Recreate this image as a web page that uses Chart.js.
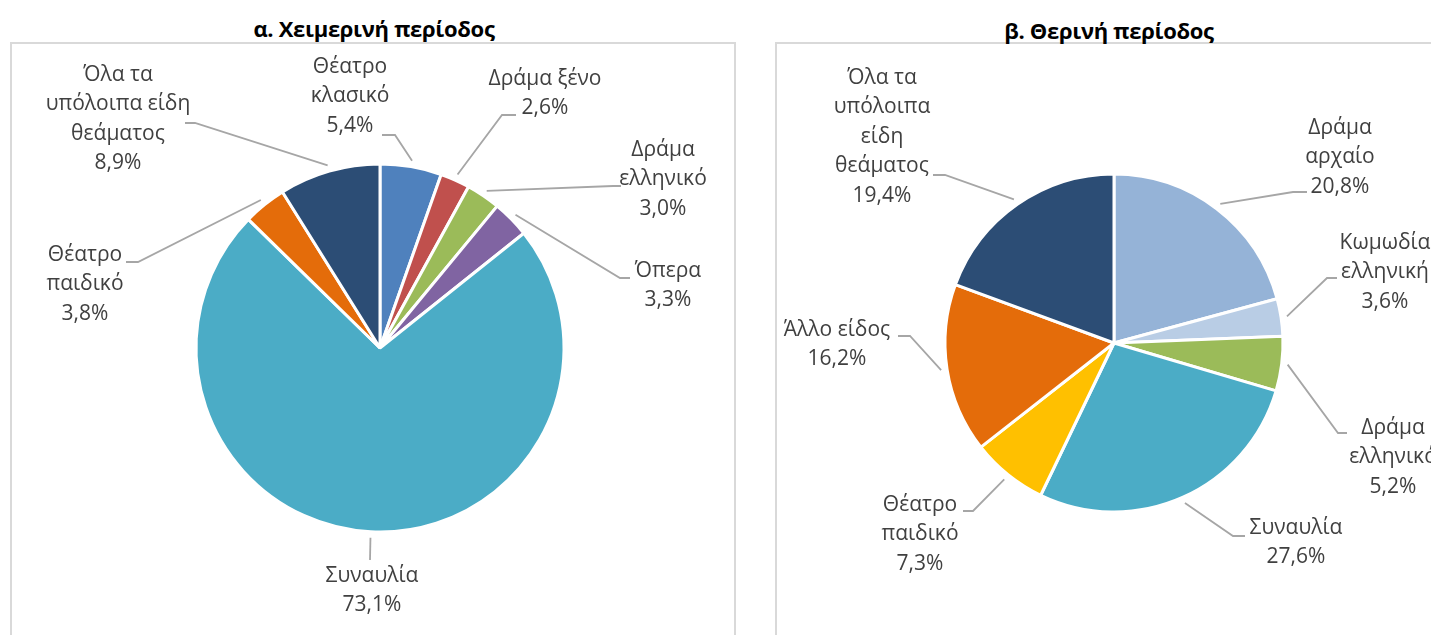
<!DOCTYPE html>
<html>
<head>
<meta charset="utf-8">
<script src="https://cdn.jsdelivr.net/npm/chart.js@4/dist/chart.umd.min.js"></script>
<style>
  html, body { margin: 0; padding: 0; background: #fff; }
  body { width: 1431px; height: 635px; position: relative; overflow: hidden; font-family: "Open Sans", sans-serif; }
  .box { position: absolute; top: 42px; border: 2px solid #D9D9D9; box-sizing: border-box; }
  .title { position: absolute; font-family: "Open Sans", sans-serif; font-weight: 700; font-size: 22px; color: #000; white-space: nowrap; transform: translate(-50%, -50%); letter-spacing: -0.3px; }
  canvas { position: absolute; top: 0; }
</style>
</head>
<body>
<div class="box" style="left:10px; width:726px; height:620px;"></div>
<div class="box" style="left:775px; width:700px; height:620px;"></div>
<div class="title" style="left:374px; top:28px;">α. Χειμερινή περίοδος</div>
<div class="title" style="left:1109px; top:30px;">β. Θερινή περίοδος</div>
<div style="position:absolute;left:0;top:0;width:760px;height:635px;"><canvas id="c1"></canvas></div>
<div style="position:absolute;left:760px;top:0;width:671px;height:635px;"><canvas id="c2"></canvas></div>
<script>
// ---- Data ----
const winterCategories = ["Θέατρο\nκλασικό", "Δράμα ξένο", "Δράμα\nελληνικό", "Όπερα", "Συναυλία", "Θέατρο\nπαιδικό", "Όλα τα\nυπόλοιπα είδη\nθεάματος"];
const winterValues = [5.4, 2.6, 3.0, 3.3, 73.1, 3.8, 8.9];
const winterColors = ["#4F81BD", "#C0504D", "#9BBB59", "#8064A2", "#4BACC6", "#E46C0A", "#2C4D75"];

const summerCategories = ["Δράμα\nαρχαίο", "Κωμωδία\nελληνική", "Δράμα\nελληνικό", "Συναυλία", "Θέατρο\nπαιδικό", "Άλλο είδος", "Όλα τα\nυπόλοιπα\nείδη\nθεάματος"];
const summerValues = [20.8, 3.6, 5.2, 27.6, 7.3, 16.2, 19.4];
const summerColors = ["#95B3D7", "#B9CDE5", "#9BBB59", "#4BACC6", "#FFC000", "#E46C0A", "#2C4D75"];

// ---- Label layout (page coordinates) ----
const winterLayout = [
  { cx: 350, y0: 67,  elbow: [395, 135], end: [382, 135] },
  { cx: 545, y0: 79,  elbow: [502, 115], end: [516, 115] },
  { cx: 663, y0: 150, elbow: [613, 186], end: [621, 186] },
  { cx: 668, y0: 271, elbow: [620, 278], end: [630, 278] },
  { cx: 372, y0: 576, elbow: null,       end: [370, 560] },
  { cx: 85,  y0: 255, elbow: [138, 262], end: [126, 262] },
  { cx: 118, y0: 75,  elbow: [195, 123], end: [185, 123] }
];
const summerLayout = [
  { cx: 1340, y0: 128, elbow: [1293, 192], end: [1307, 192] },
  { cx: 1385, y0: 243, elbow: [1327, 278], end: [1337, 278] },
  { cx: 1393, y0: 428, elbow: [1338, 433], end: [1347, 433] },
  { cx: 1296, y0: 528, elbow: [1233, 536], end: [1245, 536] },
  { cx: 920,  y0: 505, elbow: [973, 511],  end: [963, 511] },
  { cx: 837,  y0: 330, elbow: [910, 336],  end: [898, 336] },
  { cx: 882,  y0: 78,  elbow: [945, 175],  end: [933, 175] }
];

const fmt = v => v.toFixed(1).replace('.', ',') + '%';

const leaderPlugin = {
  id: 'leaders',
  afterDatasetsDraw(chart, args, opts) {
    const ctx = chart.ctx;
    const meta = chart.getDatasetMeta(0);
    const ds = chart.data.datasets[0];
    const ox = opts.offsetX;
    ctx.save();
    meta.data.forEach((el, i) => {
      const L = opts.layout[i];
      const p = el.getProps(['x', 'y', 'startAngle', 'endAngle', 'outerRadius'], true);
      const a = (p.startAngle + p.endAngle) / 2;
      const r = p.outerRadius + 6;
      const sx = p.x + Math.cos(a) * r;
      const sy = p.y + Math.sin(a) * r;
      ctx.beginPath();
      ctx.strokeStyle = '#A6A6A6';
      ctx.lineWidth = 1.8;
      ctx.moveTo(sx, sy);
      if (L.elbow) ctx.lineTo(L.elbow[0] - ox, L.elbow[1]);
      ctx.lineTo(L.end[0] - ox, L.end[1]);
      ctx.stroke();
      const lines = chart.data.labels[i].split('\n').concat([fmt(ds.data[i])]);
      ctx.fillStyle = '#404040';
      ctx.font = '21px "Open Sans", sans-serif';
      ctx.textAlign = 'center';
      ctx.textBaseline = 'middle';
      lines.forEach((t, k) => ctx.fillText(t, L.cx - ox, L.y0 + k * 29.5));
    });
    ctx.restore();
  }
};

function makePie(id, labels, values, colors, radius, padding, layout, offsetX) {
  new Chart(document.getElementById(id), {
    type: 'pie',
    data: {
      labels: labels,
      datasets: [{
        data: values,
        backgroundColor: colors,
        borderColor: '#FFFFFF',
        borderWidth: 3,
        hoverBorderWidth: 3,
        hoverOffset: 0,
        radius: radius
      }]
    },
    options: {
      responsive: true,
      maintainAspectRatio: false,
      animation: false,
      events: [],
      layout: { padding: padding },
      plugins: {
        legend: { display: false },
        title: { display: false },
        tooltip: { enabled: false },
        leaders: { layout: layout, offsetX: offsetX }
      }
    },
    plugins: [leaderPlugin]
  });
}

makePie('c1', winterCategories, winterValues, winterColors, 184,
  { left: 196, right: 196, top: 164, bottom: 103 }, winterLayout, 0);
makePie('c2', summerCategories, summerValues, summerColors, 169,
  { left: 185, right: 148, top: 174, bottom: 123 }, summerLayout, 760);
</script>
</body>
</html>
